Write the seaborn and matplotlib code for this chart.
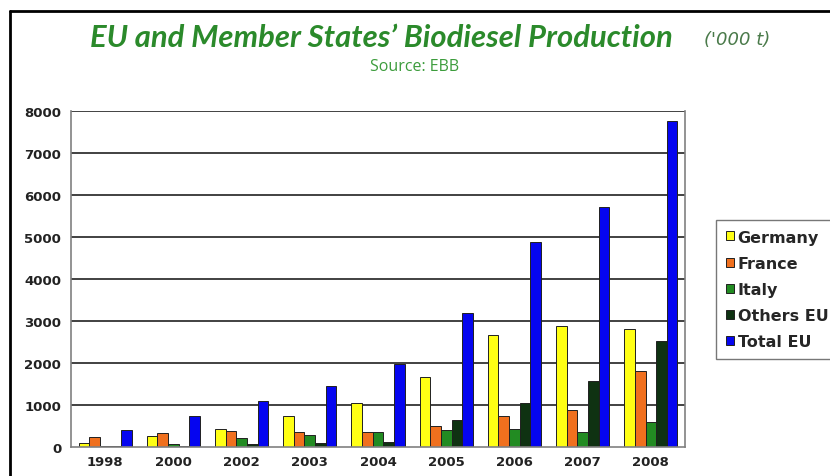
import matplotlib
matplotlib.use("Agg")
import matplotlib.pyplot as plt
from matplotlib.lines import Line2D
import pandas as pd
import seaborn as sns

# Biodiesel production, thousand tonnes
years = ["1998", "2000", "2002", "2003", "2004", "2005", "2006", "2007", "2008"]
germany = [100, 270, 430, 745, 1045, 1670, 2660, 2890, 2820]
france = [240, 330, 390, 350, 350, 500, 750, 870, 1815]
italy = [15, 80, 210, 285, 350, 400, 430, 365, 600]
others_eu = [20, 20, 70, 95, 125, 650, 1050, 1580, 2530]
total_eu = [400, 745, 1085, 1445, 1975, 3185, 4890, 5715, 7755]

series_names = ["Germany", "France", "Italy", "Others EU", "Total EU"]
series_values = [germany, france, italy, others_eu, total_eu]
colors = ["#ffff14", "#f0701e", "#228b22", "#0f3212", "#0505f0"]

rows = []
for name, vals in zip(series_names, series_values):
    for y, v in zip(years, vals):
        rows.append({"Year": y, "Country": name, "Production": v})
df = pd.DataFrame(rows)

sns.set_style("white")
fig = plt.figure(figsize=(8.3, 4.77), dpi=100)
ax = fig.add_axes([71 / 830, 1 - 448 / 477, (685 - 71) / 830, (448 - 112) / 477])

sns.barplot(data=df, x="Year", y="Production", hue="Country", order=years,
            hue_order=series_names, palette=colors, width=0.78,
            edgecolor="#202020", linewidth=0.7, saturation=1, ax=ax)

ax.set_ylim(0, 8000)
ax.set_xlim(-0.5, len(years) - 0.5)
ax.set_yticks(range(0, 8001, 1000))
ax.set_xlabel("")
ax.set_ylabel("")
for v in range(1000, 8001, 1000):
    ax.axhline(v, color="#333333", lw=1.3, zorder=0)

for side in ["left", "bottom", "right"]:
    ax.spines[side].set_color("#808080")
    ax.spines[side].set_linewidth(1.2)
ax.spines["top"].set_visible(False)

# category boundary ticks on the x axis
ax.set_xticks([i - 0.5 for i in range(len(years) + 1)], minor=True)
ax.tick_params(axis="x", which="major", length=0, pad=6)
ax.tick_params(axis="x", which="minor", length=4, color="#808080", width=1)
ax.tick_params(axis="y", length=4, color="#808080", width=1, pad=3)
for lab in ax.get_xticklabels() + ax.get_yticklabels():
    lab.set_fontweight("bold")
    lab.set_fontsize(9.5)
    lab.set_color("#222222")
    lab.set_family("DejaVu Sans")

ax.legend(loc="upper left", bbox_to_anchor=(716 / 830, 1 - 221 / 477),
          bbox_transform=fig.transFigure, borderaxespad=0, frameon=True,
          fancybox=False, edgecolor="#555555", handlelength=0.5,
          handleheight=0.5, handletextpad=0.25, labelspacing=0.7,
          borderpad=0.6,
          prop={"weight": "bold", "size": 11.5, "family": "DejaVu Sans"})
ax.get_legend().get_frame().set_linewidth(1.0)

# headings
fig.text(673 / 830, 1 - 47 / 477, "EU and Member States\u2019 Biodiesel Production",
         ha="right", va="baseline", fontsize=22.3, fontweight="bold",
         style="italic", color="#2b8a2b", family="Lato")
fig.text(704 / 830, 1 - 45 / 477, "('000 t)", ha="left", va="baseline",
         fontsize=13, style="italic", color="#4a7a4a", family="DejaVu Sans")
fig.text(415 / 830, 1 - 71 / 477, "Source: EBB", ha="center", va="baseline",
         fontsize=11.5, color="#3c9c3c", family="Open Sans")

# outer frame on the top and left
fig.add_artist(Line2D([10 / 830, 1.0], [1 - 12 / 477, 1 - 12 / 477],
                      transform=fig.transFigure, color="black", lw=2))
fig.add_artist(Line2D([10 / 830, 10 / 830], [0, 1 - 12 / 477],
                      transform=fig.transFigure, color="black", lw=2))

fig.savefig("out.png", dpi=100)
